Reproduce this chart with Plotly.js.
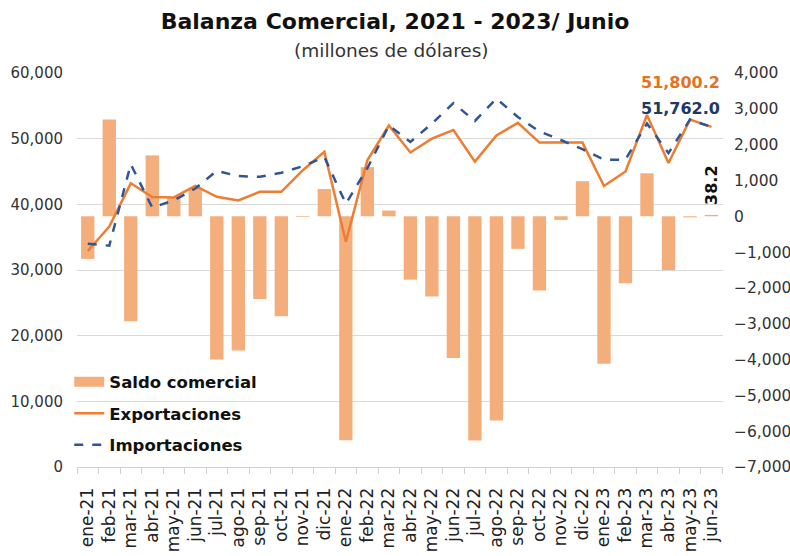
<!DOCTYPE html>
<html>
<head>
<meta charset="utf-8">
<script src="https://cdn.plot.ly/plotly-3.0.1.min.js"></script>
<style>html,body{margin:0;padding:0;background:#fff}#chart{width:790px;height:556px}</style>
</head>
<body>
<div id="chart"></div>
<script>
const months = ["ene-21","feb-21","mar-21","abr-21","may-21","jun-21","jul-21","ago-21","sep-21","oct-21","nov-21","dic-21",
  "ene-22","feb-22","mar-22","abr-22","may-22","jun-22","jul-22","ago-22","sep-22","oct-22","nov-22","dic-22",
  "ene-23","feb-23","mar-23","abr-23","may-23","jun-23"];
const saldo = [-1190, 2700, -2930, 1700, 530, 800, -4000, -3750, -2310, -2790, -20, 760,
  -6250, 1370, 160, -1770, -2240, -3960, -6260, -5700, -910, -2070, -100, 980,
  -4120, -1870, 1200, -1500, -30, 38.2];
const exportaciones = [32900, 36600, 43200, 41100, 41050, 42800, 41150, 40600, 41900, 41900, 45200, 48000,
  34300, 46700, 52000, 47900, 50000, 51300, 46500, 50500, 52400, 49400, 49400, 49400,
  42800, 45000, 53600, 46300, 52900, 51800.2];
const importaciones = [34000, 33700, 46100, 39500, 40600, 42400, 45100, 44300, 44200, 44800, 45800, 47200,
  40100, 45500, 52000, 49500, 52300, 55400, 52700, 56100, 53300, 51100, 49800, 48400,
  46800, 46800, 52300, 47800, 52900, 51762.0];

const FONT = "DejaVu Sans, Lato, sans-serif";
const BAR_COLOR = "#F4AE7B";
const fmt1 = v => v.toLocaleString("en-US", {minimumFractionDigits: 1, maximumFractionDigits: 1});
const last = months.length - 1;

const traces = [
  {type: "bar", name: "Saldo comercial", x: months, y: saldo, yaxis: "y",
   marker: {color: BAR_COLOR}, showlegend: false},
  // legend-only entry giving the wide rectangular swatch of the original
  {type: "scatter", mode: "lines", name: "Saldo comercial", x: [null], y: [null], yaxis: "y",
   line: {color: BAR_COLOR, width: 11}, legendgroup: "a", hoverinfo: "skip"},
  {type: "scatter", mode: "lines", name: "Exportaciones", x: months, y: exportaciones, yaxis: "y2",
   line: {color: "#EE7D31", width: 2.5}, legendgroup: "b"},
  {type: "scatter", mode: "lines", name: "Importaciones", x: months, y: importaciones, yaxis: "y2",
   line: {color: "#2F5597", width: 2.5, dash: "dash"}, legendgroup: "c"}
];

const layout = {
  width: 790, height: 556,
  margin: {l: 77, r: 67, t: 73, b: 89},
  paper_bgcolor: "#fff", plot_bgcolor: "rgba(0,0,0,0)",
  font: {family: FONT, color: "#222"},
  title: {text: "<b>Balanza Comercial, 2021 - 2023/ Junio</b>", x: 0.5, xanchor: "center",
          y: 0.962, yanchor: "middle", font: {family: FONT, size: 22, color: "#111"}},
  bargap: 0.38,
  showlegend: true,
  legend: {x: -0.012, xanchor: "left", y: 0.26, yanchor: "top", bgcolor: "rgba(0,0,0,0)",
           font: {family: FONT, size: 16.5, color: "#111", weight: "bold"},
           tracegroupgap: 7, traceorder: "grouped", itemwidth: 30},
  xaxis: {type: "category", tickangle: -90, tickfont: {family: FONT, size: 17, color: "#222"},
          showgrid: false, showline: true, linecolor: "#d0d0d0", linewidth: 1,
          ticks: "outside", tickson: "boundaries", ticklen: 6, tickcolor: "#d0d0d0",
          ticklabelstandoff: 13},
  yaxis: {side: "right", range: [-7000, 4000], dtick: 1000, tickformat: ",d",
          showgrid: false, zeroline: false, ticklabelstandoff: 10,
          tickfont: {family: FONT, size: 15.5, color: "#333"}},
  yaxis2: {side: "left", overlaying: "y", range: [0, 60000], dtick: 10000, tickformat: ",d",
           showgrid: true, gridcolor: "#d9d9d9", gridwidth: 1, zeroline: false, ticklabelstandoff: 13,
           tickfont: {family: FONT, size: 15, color: "#333"}},
  annotations: [
    {text: "(millones de dólares)", xref: "paper", yref: "paper", x: 0.5, y: 1.0, xshift: -9, yshift: 23,
     xanchor: "center", yanchor: "middle", showarrow: false, font: {family: FONT, size: 18.5, color: "#333"}},
    {text: "<b>" + fmt1(exportaciones[last]) + "</b>", xref: "x", yref: "y2", x: months[last], y: exportaciones[last],
     xanchor: "right", yanchor: "middle", xshift: 10, yshift: 44, showarrow: false,
     font: {family: FONT, size: 16, color: "#E3731F"}},
    {text: "<b>" + fmt1(importaciones[last]) + "</b>", xref: "x", yref: "y2", x: months[last], y: importaciones[last],
     xanchor: "right", yanchor: "middle", xshift: 10, yshift: 19, showarrow: false,
     font: {family: FONT, size: 16, color: "#203864"}},
    {text: "<b>" + fmt1(saldo[last]) + "</b>", xref: "x", yref: "y", x: months[last], y: saldo[last],
     xanchor: "center", yanchor: "bottom", textangle: -90, yshift: 8, showarrow: false,
     font: {family: FONT, size: 16, color: "#111"}}
  ]
};

Plotly.newPlot("chart", traces, layout, {displayModeBar: false, staticPlot: true});
</script>
</body>
</html>
